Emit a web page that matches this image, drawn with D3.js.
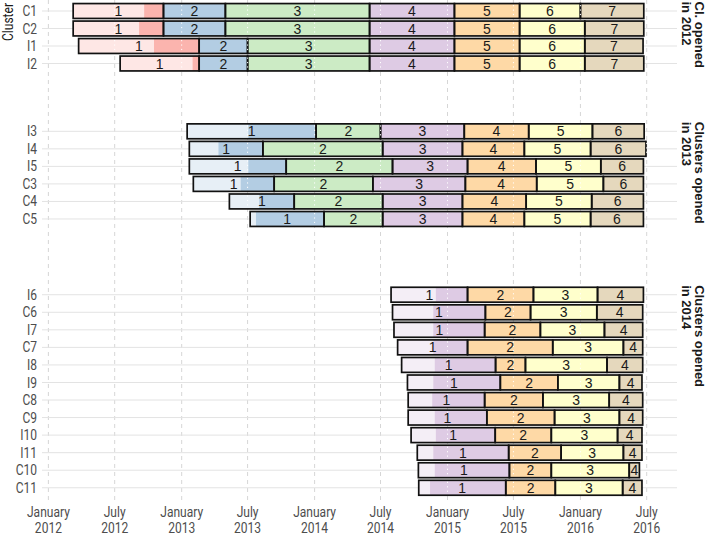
<!DOCTYPE html>
<html><head><meta charset="utf-8">
<script src="https://cdn.jsdelivr.net/npm/d3@7"></script>
<style>body{margin:0;background:#fff} svg{display:block}</style>
</head><body><svg id="chart" width="709" height="535"></svg>
<script>
// ---------------- data ----------------
const clusters = ["C1","C2","I1","I2",
  "I3","I4","I5","C3","C4","C5",
  "I6","C6","I7","C7","I8","I9","C8","C9","I10","I11","C10","C11"];
const openYear = [2012,2012,2012,2012,
  2013,2013,2013,2013,2013,2013,
  2014,2014,2014,2014,2014,2014,2014,2014,2014,2014,2014,2014];
const startDates = ["2012-03-09","2012-03-09","2012-03-24","2012-07-16",
  "2013-01-16","2013-01-22","2013-01-22","2013-02-02","2013-05-12","2013-07-08",
  "2014-07-30","2014-08-03","2014-08-07","2014-08-17","2014-08-28","2014-09-13",
  "2014-09-15","2014-09-15","2014-09-23","2014-10-10","2014-10-13","2014-10-14"];
// end of the lighter (first) part of period 1
const fullDates = ["2012-09-20","2012-09-06","2012-10-17","2013-01-31",
  "2013-07-03","2013-04-12","2013-07-03","2013-06-12","2013-08-02","2013-07-24",
  "2014-11-30","2014-11-23","2014-11-23","2014-11-23","2014-11-27","2014-11-23",
  "2014-11-20","2014-11-27","2014-11-30","2014-11-23","2014-11-27","2014-11-14"];
// end date of each numbered period
const periodEnds = [
  ["2012-11-12","2013-05-01","2014-06-01","2015-01-20","2015-07-18","2016-01-01","2016-06-23"],
  ["2012-11-12","2013-05-01","2014-06-01","2015-01-20","2015-07-18","2016-01-13","2016-06-23"],
  ["2013-02-18","2013-07-01","2014-06-01","2015-01-20","2015-07-18","2016-01-13","2016-06-21"],
  ["2013-02-18","2013-07-01","2014-06-01","2015-01-20","2015-07-18","2016-01-13","2016-06-23"],
  ["2014-01-05","2014-07-01","2015-02-16","2015-08-12","2016-02-03","2016-06-24"],
  ["2013-08-12","2014-07-07","2015-02-11","2015-07-31","2016-01-29","2016-06-29"],
  ["2013-10-15","2014-08-03","2015-02-25","2015-09-01","2016-02-26","2016-06-22"],
  ["2013-09-12","2014-06-10","2015-02-19","2015-09-03","2016-03-04","2016-06-22"],
  ["2013-11-06","2014-07-07","2015-02-11","2015-08-05","2016-02-01","2016-06-22"],
  ["2014-01-27","2014-07-07","2015-02-11","2015-07-31","2016-01-29","2016-06-22"],
  ["2015-02-25","2015-08-25","2016-02-17","2016-06-22"],
  ["2015-04-15","2015-08-17","2016-02-15","2016-06-20"],
  ["2015-04-13","2015-09-13","2016-03-07","2016-06-20"],
  ["2015-02-25","2015-10-17","2016-04-28","2016-06-20"],
  ["2015-05-13","2015-08-03","2016-03-14","2016-06-20"],
  ["2015-05-26","2015-10-31","2016-04-17","2016-06-18"],
  ["2015-04-13","2015-09-20","2016-03-20","2016-06-20"],
  ["2015-04-19","2015-10-22","2016-04-17","2016-06-20"],
  ["2015-05-12","2015-10-13","2016-04-12","2016-06-18"],
  ["2015-06-18","2015-11-09","2016-04-28","2016-06-18"],
  ["2015-06-20","2015-10-13","2016-05-14","2016-06-11"],
  ["2015-06-10","2015-10-24","2016-04-26","2016-06-18"]
];
const palette = ["#FBB4AE","#B3CDE3","#CCEBC5","#DECBE4","#FED9A6","#FFFFCC","#E5D8BD"];
const firstColorIndex = [0, 1, 3];          // colour of period 1 per panel
const panelYears = [2012, 2013, 2014];
const panelLabels = [["Cl. opened","in 2012"],["Clusters opened","in 2013"],["Clusters opened","in 2014"]];
const tickDates = ["2012-01-01","2012-07-01","2013-01-01","2013-07-01","2014-01-01",
  "2014-07-01","2015-01-01","2015-07-01","2016-01-01","2016-07-01"];
const tickLabels = [["January","2012"],["July","2012"],["January","2013"],["July","2013"],
  ["January","2014"],["July","2014"],["January","2015"],["July","2015"],["January","2016"],["July","2016"]];

// ---------------- layout ----------------
const parse = d3.utcParse("%Y-%m-%d");
const svg = d3.select("#chart");
const panelLeft = 42, panelRight = 677;
const panelTops = [0.5, 120.8, 284.2];
const panelBottoms = [74, 229.5, 498.3];
const x = d3.scaleUtc()
  .domain([parse("2012-01-01"), parse("2016-07-01")])
  .range([48.4, 646.7]);

const rows = clusters.map((c, i) => ({
  name: c, year: openYear[i], start: parse(startDates[i]), full: parse(fullDates[i]),
  ends: periodEnds[i].map(parse)
}));

const condensed = 0.86;
const axisFont = "Roboto, 'Liberation Sans', sans-serif";
const barFont = "'Liberation Sans', Arial, sans-serif";

const gGrid = svg.append("g");
const gBars = svg.append("g");
const gTop = svg.append("g");

// vertical dashed gridlines (full height)
tickDates.forEach(t => {
  gGrid.append("line")
    .attr("x1", x(parse(t))).attr("x2", x(parse(t)))
    .attr("y1", 0).attr("y2", 504)
    .attr("stroke", "#cccccc").attr("stroke-width", 0.8)
    .attr("stroke-dasharray", "4,4");
});

panelYears.forEach((yr, p) => {
  const pr = rows.filter(r => r.year === yr);
  const y = d3.scaleBand()
    .domain(pr.map(r => r.name))
    .range([panelTops[p], panelBottoms[p]])
    .paddingInner(0.15).paddingOuter(0.175);
  const bw = y.bandwidth();

  // horizontal gridlines + y labels
  pr.forEach(r => {
    const cy = y(r.name) + bw / 2;
    gGrid.append("line")
      .attr("x1", panelLeft).attr("x2", panelRight)
      .attr("y1", cy).attr("y2", cy)
      .attr("stroke", "#e3e3e3").attr("stroke-width", 1);
    svg.append("text")
      .attr("transform", `translate(37,${cy}) scale(${condensed},1)`)
      .attr("dy", "0.36em")
      .attr("text-anchor", "end")
      .attr("font-family", axisFont).attr("font-size", 14)
      .attr("fill", "#4d4d4d")
      .text(r.name);
  });

  // bars
  pr.forEach(r => {
    const top = y(r.name);
    const bounds = [r.start].concat(r.ends);
    // coloured fills
    r.ends.forEach((e, k) => {
      const col = palette[firstColorIndex[p] + k];
      gBars.append("rect")
        .attr("x", x(bounds[k])).attr("y", top)
        .attr("width", x(e) - x(bounds[k])).attr("height", bw)
        .attr("fill", col);
      if (k === 0) {
        const light = d3.interpolateRgb("#ffffff", col)(0.32);
        gBars.append("rect")
          .attr("x", x(r.start)).attr("y", top)
          .attr("width", x(r.full) - x(r.start)).attr("height", bw)
          .attr("fill", light);
      }
    });
    // white dashed date lines over bars
    tickDates.forEach(t => {
      const tx = x(parse(t));
      if (tx > x(r.start) + 1 && tx < x(r.ends[r.ends.length - 1]) + 1) {
        gTop.append("line")
          .attr("x1", tx).attr("x2", tx)
          .attr("y1", top + 1.5).attr("y2", top + bw - 1.5)
          .attr("stroke", "#ffffff").attr("stroke-width", 1)
          .attr("stroke-dasharray", "1.2,3.2");
      }
    });
    // outlines + labels
    r.ends.forEach((e, k) => {
      gBars.append("rect")
        .attr("x", x(bounds[k])).attr("y", top)
        .attr("width", x(e) - x(bounds[k])).attr("height", bw)
        .attr("fill", "none").attr("stroke", "#111").attr("stroke-width", 1.7);
      gTop.append("text")
        .attr("x", (x(bounds[k]) + x(e)) / 2)
        .attr("y", top + bw / 2).attr("dy", "0.36em")
        .attr("text-anchor", "middle")
        .attr("font-family", barFont).attr("font-size", 14)
        .attr("fill", "#1a1a1a")
        .text(k + 1);
    });
  });

  // strip label (rotated, top aligned)
  const st = svg.append("text")
    .attr("transform", `translate(695,${panelTops[p] + 1}) rotate(90)`)
    .attr("font-family", barFont).attr("font-size", 13)
    .attr("font-weight", "bold").attr("fill", "#1a1a1a");
  panelLabels[p].forEach((l, i) => {
    st.append("tspan").attr("x", 0).attr("dy", i === 0 ? 0 : "1em").text(l);
  });
});

// x axis ticks and labels
tickDates.forEach((t, i) => {
  const tx = x(parse(t));
  const txt = svg.append("text")
    .attr("transform", `translate(${tx},517) scale(${condensed},1)`)
    .attr("text-anchor", "middle")
    .attr("font-family", axisFont).attr("font-size", 14)
    .attr("fill", "#4d4d4d");
  txt.append("tspan").attr("x", 0).attr("dy", 0).text(tickLabels[i][0]);
  txt.append("tspan").attr("x", 0).attr("dy", 16).text(tickLabels[i][1]);
});

// y axis title (cropped at top)
svg.append("text")
  .attr("transform", `translate(13,41) rotate(-90) scale(${condensed},1)`)
  .attr("text-anchor", "start")
  .attr("font-family", axisFont).attr("font-size", 14)
  .attr("fill", "#1a1a1a")
  .text("Cluster");
</script></body></html>
